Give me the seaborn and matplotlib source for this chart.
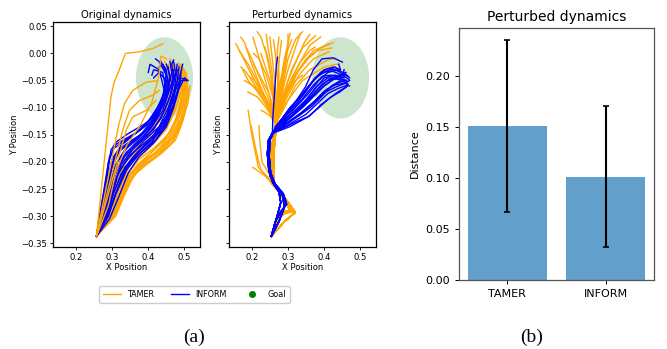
import matplotlib
matplotlib.use("Agg")
import matplotlib.pyplot as plt
import pandas as pd
import seaborn as sns
from matplotlib.patches import Ellipse
from matplotlib.lines import Line2D

# ---- data ----
METHODS = ["TAMER", "INFORM"]
DIST_MEAN = [0.151, 0.101]
DIST_STD = [0.084, 0.069]

GOAL_CENTER = (0.445, -0.045)
GOAL_W, GOAL_H = 0.158, 0.150

# original dynamics, TAMER (orange)
ORIG_TAMER = [
    [(0.257, -0.337), (0.29, -0.30), (0.31, -0.26), (0.33, -0.22), (0.36, -0.19), (0.40, -0.165), (0.44, -0.135), (0.465, -0.10), (0.48, -0.06), (0.475, -0.03), (0.46, -0.015)],
    [(0.257, -0.337), (0.30, -0.305), (0.325, -0.265), (0.345, -0.225), (0.38, -0.20), (0.42, -0.175), (0.46, -0.145), (0.485, -0.11), (0.495, -0.07), (0.49, -0.035), (0.48, -0.02)],
    [(0.257, -0.337), (0.31, -0.295), (0.34, -0.245), (0.365, -0.215), (0.40, -0.195), (0.44, -0.175), (0.475, -0.15), (0.495, -0.12), (0.505, -0.08), (0.50, -0.045)],
    [(0.257, -0.337), (0.316, -0.286), (0.348, -0.237), (0.385, -0.206), (0.44, -0.182), (0.475, -0.16), (0.49, -0.135), (0.50, -0.11), (0.51, -0.075), (0.505, -0.04), (0.49, -0.02)],
    [(0.257, -0.337), (0.285, -0.295), (0.305, -0.25), (0.325, -0.21), (0.35, -0.18), (0.39, -0.155), (0.43, -0.125), (0.455, -0.085), (0.47, -0.05), (0.465, -0.02)],
    [(0.257, -0.337), (0.295, -0.30), (0.315, -0.26), (0.34, -0.225), (0.37, -0.195), (0.41, -0.17), (0.45, -0.14), (0.475, -0.105), (0.49, -0.065), (0.485, -0.03)],
    [(0.257, -0.337), (0.305, -0.30), (0.33, -0.255), (0.355, -0.22), (0.39, -0.20), (0.43, -0.18), (0.465, -0.155), (0.49, -0.12), (0.50, -0.085), (0.50, -0.05), (0.495, -0.03)],
    [(0.257, -0.337), (0.28, -0.30), (0.30, -0.255), (0.32, -0.215), (0.345, -0.185), (0.38, -0.16), (0.42, -0.13), (0.445, -0.095), (0.46, -0.06), (0.455, -0.03), (0.445, -0.015)],
    [(0.257, -0.337), (0.30, -0.295), (0.32, -0.25), (0.345, -0.21), (0.375, -0.185), (0.415, -0.16), (0.455, -0.13), (0.48, -0.095), (0.495, -0.055), (0.49, -0.025)],
    [(0.257, -0.337), (0.31, -0.30), (0.335, -0.26), (0.36, -0.225), (0.395, -0.205), (0.435, -0.185), (0.47, -0.16), (0.495, -0.125), (0.51, -0.09), (0.515, -0.06)],
    [(0.257, -0.337), (0.29, -0.29), (0.32, -0.245), (0.35, -0.205), (0.385, -0.18), (0.425, -0.155), (0.46, -0.12), (0.48, -0.08), (0.485, -0.045), (0.475, -0.02)],
    [(0.257, -0.337), (0.305, -0.29), (0.335, -0.24), (0.37, -0.205), (0.415, -0.185), (0.455, -0.16), (0.48, -0.13), (0.495, -0.095), (0.505, -0.06), (0.50, -0.03)],
    [(0.257, -0.337), (0.295, -0.305), (0.32, -0.27), (0.34, -0.235), (0.365, -0.21), (0.405, -0.185), (0.445, -0.16), (0.475, -0.125), (0.49, -0.085), (0.49, -0.05)],
    [(0.257, -0.337), (0.285, -0.30), (0.31, -0.24), (0.34, -0.195), (0.375, -0.17), (0.41, -0.145), (0.445, -0.11), (0.465, -0.07), (0.47, -0.035), (0.46, -0.01)],
    [(0.257, -0.337), (0.30, -0.30), (0.322, -0.258), (0.345, -0.22), (0.375, -0.195), (0.415, -0.175), (0.455, -0.15), (0.48, -0.115), (0.495, -0.075), (0.495, -0.04)],
    [(0.257, -0.337), (0.292, -0.298), (0.315, -0.255), (0.338, -0.215), (0.365, -0.19), (0.405, -0.168), (0.445, -0.14), (0.47, -0.105), (0.485, -0.065), (0.48, -0.03)],
    [(0.257, -0.337), (0.308, -0.292), (0.338, -0.25), (0.37, -0.215), (0.41, -0.195), (0.45, -0.172), (0.48, -0.14), (0.50, -0.105), (0.508, -0.07), (0.505, -0.035)],
    [(0.257, -0.337), (0.288, -0.30), (0.308, -0.26), (0.33, -0.22), (0.355, -0.19), (0.39, -0.165), (0.43, -0.14), (0.46, -0.105), (0.475, -0.065), (0.47, -0.025)],
    [(0.257, -0.337), (0.312, -0.29), (0.342, -0.245), (0.375, -0.212), (0.42, -0.19), (0.46, -0.168), (0.485, -0.14), (0.50, -0.105), (0.51, -0.065), (0.50, -0.035)],
    [(0.257, -0.337), (0.298, -0.302), (0.322, -0.262), (0.345, -0.228), (0.38, -0.203), (0.425, -0.18), (0.46, -0.15), (0.485, -0.115), (0.498, -0.075), (0.495, -0.04), (0.485, -0.018)],
    [(0.257, -0.337), (0.283, -0.305), (0.302, -0.262), (0.32, -0.225), (0.342, -0.195), (0.375, -0.168), (0.415, -0.14), (0.445, -0.105), (0.465, -0.07), (0.465, -0.035), (0.455, -0.02)],
    [(0.257, -0.337), (0.29, -0.28), (0.31, -0.22), (0.34, -0.17), (0.38, -0.13), (0.41, -0.09), (0.43, -0.04), (0.435, -0.005), (0.45, -0.01)],
    [(0.257, -0.337), (0.297, -0.08), (0.305, -0.055), (0.32, -0.03), (0.337, 0.0), (0.375, 0.003), (0.412, 0.009), (0.44, 0.018)],
    [(0.257, -0.337), (0.318, -0.133), (0.334, -0.093), (0.357, -0.068), (0.394, -0.053), (0.426, -0.05)],
    [(0.257, -0.337), (0.33, -0.14), (0.348, -0.105), (0.375, -0.087), (0.412, -0.077), (0.43, -0.068)],
    [(0.257, -0.337), (0.34, -0.14), (0.357, -0.117), (0.394, -0.105), (0.421, -0.087)],
]

# original dynamics, INFORM (blue)
ORIG_INFORM = [
    [(0.257, -0.337), (0.27, -0.29), (0.285, -0.235), (0.297, -0.178), (0.312, -0.163), (0.344, -0.148), (0.39, -0.13), (0.427, -0.11), (0.445, -0.07), (0.43, -0.03), (0.405, -0.02), (0.40, -0.035)],
    [(0.257, -0.337), (0.275, -0.29), (0.29, -0.24), (0.305, -0.19), (0.33, -0.165), (0.37, -0.145), (0.41, -0.12), (0.44, -0.08), (0.45, -0.04), (0.43, -0.015), (0.42, -0.01)],
    [(0.257, -0.337), (0.28, -0.29), (0.295, -0.245), (0.315, -0.20), (0.345, -0.17), (0.385, -0.145), (0.42, -0.115), (0.45, -0.075), (0.46, -0.04), (0.45, -0.02)],
    [(0.257, -0.337), (0.283, -0.295), (0.30, -0.25), (0.325, -0.205), (0.36, -0.175), (0.40, -0.15), (0.435, -0.12), (0.46, -0.08), (0.47, -0.045), (0.465, -0.02), (0.47, -0.012)],
    [(0.257, -0.337), (0.287, -0.298), (0.305, -0.255), (0.335, -0.21), (0.37, -0.182), (0.41, -0.158), (0.445, -0.125), (0.47, -0.085), (0.48, -0.05), (0.485, -0.025)],
    [(0.257, -0.337), (0.29, -0.30), (0.31, -0.26), (0.34, -0.215), (0.375, -0.185), (0.42, -0.16), (0.455, -0.125), (0.475, -0.085), (0.49, -0.05), (0.505, -0.05)],
    [(0.257, -0.337), (0.285, -0.30), (0.30, -0.26), (0.32, -0.215), (0.35, -0.19), (0.39, -0.16), (0.43, -0.135), (0.455, -0.10), (0.475, -0.06), (0.49, -0.035), (0.495, -0.02)],
    [(0.257, -0.337), (0.275, -0.30), (0.29, -0.255), (0.30, -0.21), (0.32, -0.18), (0.36, -0.16), (0.40, -0.14), (0.43, -0.11), (0.45, -0.07), (0.44, -0.035), (0.415, -0.03), (0.41, -0.04)],
    [(0.257, -0.337), (0.28, -0.30), (0.295, -0.26), (0.31, -0.22), (0.335, -0.19), (0.375, -0.165), (0.415, -0.13), (0.445, -0.09), (0.465, -0.055), (0.47, -0.03)],
    [(0.257, -0.337), (0.293, -0.305), (0.318, -0.265), (0.345, -0.22), (0.375, -0.19), (0.415, -0.165), (0.45, -0.135), (0.47, -0.10), (0.485, -0.065), (0.50, -0.045), (0.51, -0.05)],
    [(0.257, -0.337), (0.27, -0.30), (0.283, -0.25), (0.30, -0.195), (0.325, -0.17), (0.36, -0.15), (0.40, -0.125), (0.435, -0.09), (0.455, -0.05), (0.44, -0.02), (0.43, -0.025)],
    [(0.257, -0.337), (0.28, -0.295), (0.30, -0.24), (0.325, -0.195), (0.365, -0.165), (0.405, -0.14), (0.44, -0.105), (0.46, -0.065), (0.475, -0.035), (0.47, -0.015)],
    [(0.257, -0.337), (0.265, -0.30), (0.278, -0.25), (0.29, -0.20), (0.305, -0.175), (0.34, -0.158), (0.38, -0.14), (0.42, -0.11), (0.445, -0.07), (0.45, -0.035), (0.435, -0.015)],
    [(0.257, -0.337), (0.29, -0.295), (0.315, -0.25), (0.34, -0.21), (0.375, -0.18), (0.415, -0.15), (0.45, -0.115), (0.47, -0.075), (0.49, -0.045), (0.505, -0.05)],
    [(0.257, -0.337), (0.272, -0.30), (0.287, -0.25), (0.30, -0.205), (0.318, -0.178), (0.35, -0.162), (0.39, -0.145), (0.425, -0.115), (0.45, -0.08), (0.46, -0.05), (0.455, -0.025)],
    [(0.257, -0.337), (0.278, -0.30), (0.295, -0.255), (0.315, -0.21), (0.34, -0.182), (0.375, -0.162), (0.415, -0.14), (0.445, -0.105), (0.465, -0.07), (0.475, -0.04), (0.48, -0.02)],
    [(0.257, -0.337), (0.284, -0.30), (0.302, -0.262), (0.325, -0.222), (0.36, -0.19), (0.40, -0.165), (0.44, -0.14), (0.465, -0.105), (0.48, -0.07), (0.49, -0.04)],
    [(0.257, -0.337), (0.268, -0.295), (0.28, -0.245), (0.293, -0.19), (0.31, -0.168), (0.335, -0.158), (0.37, -0.145), (0.41, -0.125), (0.44, -0.09), (0.455, -0.06), (0.45, -0.03), (0.44, -0.02)],
    [(0.257, -0.337), (0.288, -0.30), (0.31, -0.258), (0.335, -0.215), (0.37, -0.188), (0.41, -0.163), (0.445, -0.13), (0.47, -0.095), (0.485, -0.06), (0.49, -0.035)],
    [(0.257, -0.337), (0.275, -0.295), (0.29, -0.245), (0.31, -0.205), (0.335, -0.178), (0.37, -0.158), (0.405, -0.135), (0.435, -0.10), (0.455, -0.065), (0.465, -0.035), (0.46, -0.015)],
    [(0.257, -0.337), (0.282, -0.305), (0.297, -0.265), (0.315, -0.225), (0.345, -0.19), (0.385, -0.168), (0.425, -0.145), (0.455, -0.115), (0.47, -0.08), (0.475, -0.05), (0.48, -0.03)],
    [(0.257, -0.337), (0.273, -0.305), (0.285, -0.26), (0.297, -0.215), (0.312, -0.185), (0.345, -0.165), (0.385, -0.148), (0.42, -0.12), (0.445, -0.085), (0.45, -0.05), (0.43, -0.035), (0.415, -0.045)],
]

# perturbed dynamics, INFORM: lower stems and upper branches
PERT_INFORM_STEMS = [
    [(0.254, -0.337), (0.275, -0.31), (0.29, -0.283), (0.285, -0.262), (0.265, -0.242), (0.25, -0.225), (0.245, -0.195), (0.247, -0.165), (0.255, -0.148)],
    [(0.254, -0.337), (0.265, -0.31), (0.282, -0.29), (0.296, -0.278), (0.287, -0.259), (0.264, -0.24), (0.252, -0.22), (0.248, -0.19), (0.25, -0.16), (0.26, -0.146)],
    [(0.254, -0.337), (0.27, -0.30), (0.28, -0.275), (0.275, -0.255), (0.258, -0.238), (0.247, -0.215), (0.243, -0.185), (0.246, -0.16), (0.257, -0.147)],
]
PERT_INFORM_TIPS = [
    [(0.27, -0.135), (0.30, -0.105), (0.335, -0.08), (0.365, -0.055), (0.39, -0.035), (0.41, -0.028), (0.43, -0.03), (0.445, -0.035)],
    [(0.28, -0.135), (0.31, -0.115), (0.345, -0.09), (0.375, -0.065), (0.40, -0.045), (0.43, -0.04), (0.455, -0.045)],
    [(0.29, -0.133), (0.33, -0.115), (0.365, -0.098), (0.395, -0.078), (0.42, -0.06), (0.445, -0.05), (0.465, -0.055)],
    [(0.30, -0.132), (0.35, -0.112), (0.38, -0.093), (0.41, -0.074), (0.437, -0.065), (0.465, -0.058)],
    [(0.285, -0.128), (0.32, -0.10), (0.355, -0.075), (0.385, -0.05), (0.41, -0.035), (0.44, -0.03), (0.46, -0.04)],
    [(0.295, -0.125), (0.34, -0.10), (0.37, -0.08), (0.40, -0.06), (0.43, -0.045), (0.455, -0.035), (0.47, -0.045)],
    [(0.29, -0.12), (0.32, -0.09), (0.348, -0.062), (0.37, -0.03), (0.394, -0.01), (0.425, -0.008), (0.45, -0.016)],
    [(0.275, -0.13), (0.315, -0.108), (0.35, -0.085), (0.38, -0.06), (0.41, -0.045), (0.44, -0.048), (0.46, -0.05)],
    [(0.285, -0.13), (0.325, -0.107), (0.36, -0.085), (0.39, -0.065), (0.42, -0.05), (0.45, -0.04), (0.468, -0.048)],
    [(0.30, -0.128), (0.345, -0.105), (0.375, -0.087), (0.405, -0.067), (0.435, -0.055), (0.46, -0.05)],
    [(0.265, -0.135), (0.29, -0.115), (0.32, -0.095), (0.35, -0.07), (0.375, -0.045), (0.40, -0.035), (0.43, -0.025), (0.44, -0.03)],
    [(0.31, -0.13), (0.36, -0.115), (0.39, -0.095), (0.42, -0.08), (0.445, -0.07), (0.465, -0.06)],
    [(0.275, -0.128), (0.305, -0.10), (0.34, -0.075), (0.37, -0.05), (0.395, -0.035), (0.42, -0.032), (0.45, -0.04), (0.455, -0.03)],
    [(0.282, -0.132), (0.318, -0.112), (0.352, -0.088), (0.382, -0.066), (0.41, -0.05), (0.44, -0.045), (0.462, -0.05)],
    [(0.292, -0.13), (0.335, -0.11), (0.37, -0.09), (0.40, -0.07), (0.43, -0.058), (0.455, -0.055), (0.47, -0.05)],
    [(0.305, -0.135), (0.355, -0.117), (0.385, -0.10), (0.415, -0.082), (0.44, -0.07), (0.46, -0.062)],
    [(0.278, -0.125), (0.31, -0.098), (0.345, -0.07), (0.375, -0.045), (0.40, -0.03), (0.425, -0.025), (0.445, -0.03), (0.44, -0.02)],
    [(0.288, -0.127), (0.33, -0.103), (0.362, -0.08), (0.392, -0.058), (0.42, -0.045), (0.45, -0.038), (0.465, -0.042)],
    [(0.298, -0.128), (0.342, -0.108), (0.372, -0.09), (0.402, -0.072), (0.432, -0.062), (0.458, -0.055), (0.47, -0.06)],
    [(0.272, -0.133), (0.302, -0.11), (0.338, -0.085), (0.368, -0.06), (0.395, -0.042), (0.42, -0.04), (0.45, -0.045), (0.46, -0.035)],
    [(0.258, -0.12), (0.264, -0.06), (0.268, -0.02), (0.271, -0.007)],
]

# perturbed dynamics, TAMER: lower stems, fan tips, short side branches
PERT_TAMER_STEMS = [
    [(0.254, -0.337), (0.29, -0.31), (0.32, -0.293), (0.29, -0.265), (0.258, -0.237), (0.255, -0.20), (0.262, -0.16), (0.266, -0.13)],
    [(0.254, -0.337), (0.28, -0.30), (0.305, -0.288), (0.285, -0.262), (0.255, -0.24), (0.25, -0.20), (0.258, -0.16), (0.267, -0.13)],
    [(0.254, -0.337), (0.27, -0.30), (0.29, -0.29), (0.31, -0.292), (0.28, -0.26), (0.26, -0.235), (0.26, -0.19), (0.268, -0.13)],
]
PERT_TAMER_TIPS = [
    [(0.24, -0.09), (0.20, -0.04), (0.17, 0.0), (0.156, 0.018)],
    [(0.245, -0.10), (0.21, -0.06), (0.185, -0.035), (0.17, -0.025)],
    [(0.24, -0.10), (0.215, -0.08), (0.189, -0.071)],
    [(0.25, -0.08), (0.225, -0.02), (0.21, 0.015), (0.203, 0.03)],
    [(0.25, -0.115), (0.235, -0.108), (0.226, -0.105)],
    [(0.26, -0.07), (0.245, -0.01), (0.236, 0.012)],
    [(0.262, -0.11), (0.254, -0.099)],
    [(0.27, -0.07), (0.276, -0.01), (0.282, 0.024)],
    [(0.275, -0.07), (0.29, -0.01), (0.306, 0.037)],
    [(0.28, -0.08), (0.30, -0.03), (0.32, 0.01), (0.334, 0.037)],
    [(0.285, -0.08), (0.31, -0.03), (0.34, 0.01), (0.376, 0.033)],
    [(0.29, -0.085), (0.33, -0.03), (0.37, 0.005), (0.413, 0.018)],
    [(0.29, -0.09), (0.33, -0.04), (0.37, -0.01), (0.413, 0.003)],
    [(0.29, -0.095), (0.34, -0.05), (0.40, -0.025), (0.441, -0.019)],
    [(0.285, -0.09), (0.31, -0.05), (0.329, -0.031)],
    [(0.245, -0.09), (0.22, -0.06), (0.198, -0.044)],
    [(0.255, -0.05), (0.24, 0.0), (0.225, 0.03), (0.215, 0.04)],
    [(0.272, -0.05), (0.265, 0.0), (0.26, 0.025)],
    [(0.28, -0.06), (0.295, 0.0), (0.31, 0.025)],
    [(0.295, -0.07), (0.33, -0.02), (0.36, 0.015), (0.39, 0.03)],
    [(0.23, -0.07), (0.19, -0.02), (0.165, 0.005)],
    [(0.275, -0.10), (0.285, -0.07), (0.29, -0.05)],
    [(0.235, -0.08), (0.20, -0.02), (0.18, 0.02), (0.17, 0.03)],
    [(0.265, -0.06), (0.255, 0.0), (0.25, 0.03)],
    [(0.30, -0.06), (0.35, -0.01), (0.38, 0.005), (0.42, 0.01)],
    [(0.285, -0.06), (0.30, -0.01), (0.32, 0.025), (0.34, 0.04)],
    [(0.25, -0.09), (0.225, -0.05), (0.20, -0.01), (0.185, 0.01)],
    [(0.258, -0.08), (0.24, -0.04), (0.22, -0.01), (0.205, 0.0)],
    [(0.262, -0.08), (0.255, -0.03), (0.245, 0.01), (0.24, 0.035)],
    [(0.27, -0.09), (0.275, -0.04), (0.27, 0.0), (0.275, 0.03)],
    [(0.278, -0.08), (0.29, -0.03), (0.30, 0.01), (0.30, 0.035)],
    [(0.282, -0.09), (0.30, -0.05), (0.325, -0.01), (0.345, 0.02), (0.36, 0.035)],
    [(0.29, -0.08), (0.32, -0.04), (0.355, -0.01), (0.39, 0.01), (0.425, 0.02)],
    [(0.29, -0.10), (0.32, -0.06), (0.36, -0.03), (0.41, -0.012), (0.43, -0.01)],
    [(0.28, -0.10), (0.30, -0.07), (0.32, -0.05), (0.34, -0.04)],
    [(0.255, -0.10), (0.23, -0.075), (0.205, -0.06), (0.18, -0.05)],
    [(0.26, -0.10), (0.245, -0.07), (0.225, -0.045), (0.205, -0.02)],
    [(0.262, -0.09), (0.25, -0.05), (0.235, -0.02), (0.225, 0.0)],
    [(0.265, -0.10), (0.262, -0.075), (0.255, -0.06)],
    [(0.275, -0.10), (0.28, -0.07), (0.29, -0.03), (0.295, -0.01)],
    [(0.27, -0.11), (0.272, -0.08), (0.278, -0.05), (0.285, -0.04)],
    [(0.24, -0.095), (0.215, -0.07), (0.19, -0.05), (0.175, -0.03)],
    [(0.285, -0.085), (0.31, -0.045), (0.335, -0.015), (0.36, 0.005), (0.375, 0.012)],
]
PERT_TAMER_SIDE = [
    [(0.254, -0.337), (0.29, -0.31), (0.32, -0.293), (0.29, -0.265), (0.258, -0.237), (0.235, -0.225), (0.203, -0.21)],
    [(0.254, -0.337), (0.28, -0.30), (0.305, -0.288), (0.285, -0.262), (0.255, -0.24), (0.225, -0.215), (0.212, -0.18), (0.198, -0.133)],
    [(0.254, -0.337), (0.27, -0.30), (0.31, -0.292), (0.28, -0.26), (0.26, -0.235), (0.228, -0.20), (0.222, -0.16), (0.22, -0.133)],
    [(0.254, -0.337), (0.29, -0.31), (0.32, -0.293), (0.29, -0.265), (0.258, -0.237), (0.218, -0.21), (0.20, -0.15), (0.19, -0.105)],
]

TAMER_COLOR = "orange"
INFORM_COLOR = "blue"


def join_paths(stems, tips):
    """Attach each upper branch to one of the lower stems."""
    return [stems[i % len(stems)] + tip for i, tip in enumerate(tips)]


def to_frame(paths):
    rows = []
    for k, path in enumerate(paths):
        for step, (x, y) in enumerate(path):
            rows.append({"traj": k, "step": step, "x": x, "y": y})
    return pd.DataFrame(rows)


def plot_group(ax, paths, color, lw):
    sns.lineplot(data=to_frame(paths), x="x", y="y", units="traj", estimator=None,
                 sort=False, color=color, lw=lw, ax=ax, legend=False)


def style_traj_axes(ax, title, show_ylabels):
    ax.add_patch(Ellipse(GOAL_CENTER, GOAL_W, GOAL_H, color="green", alpha=0.2, lw=0, zorder=0))
    ax.set_xlim(0.137, 0.543)
    ax.set_ylim(-0.357, 0.058)
    ax.set_xticks([0.2, 0.3, 0.4, 0.5])
    ax.set_yticks([-0.35, -0.30, -0.25, -0.20, -0.15, -0.10, -0.05, 0.0, 0.05])
    ax.tick_params(labelsize=6.1, length=2.5, width=0.6, pad=1.5)
    if not show_ylabels:
        ax.tick_params(labelleft=False)
    ax.set_title(title, fontsize=7.2, pad=3)
    ax.set_xlabel("X Position", fontsize=6, labelpad=1)
    ax.set_ylabel("Y Position", fontsize=6, labelpad=2)
    for sp in ax.spines.values():
        sp.set_linewidth(0.9)


fig = plt.figure(figsize=(6.67, 3.49), dpi=100)
ax1 = fig.add_axes([0.0795, 0.292, 0.2204, 0.645])
ax2 = fig.add_axes([0.3433, 0.292, 0.2204, 0.645])
ax3 = fig.add_axes([0.688, 0.198, 0.2924, 0.722])

# original dynamics: orange band underneath, blue on top, a few orange strays over it
plot_group(ax1, ORIG_TAMER[:21], TAMER_COLOR, 1.0)
plot_group(ax1, ORIG_INFORM, INFORM_COLOR, 1.0)
plot_group(ax1, ORIG_TAMER[21:], TAMER_COLOR, 1.0)
style_traj_axes(ax1, "Original dynamics", True)

# perturbed dynamics
plot_group(ax2, join_paths(PERT_TAMER_STEMS, PERT_TAMER_TIPS) + PERT_TAMER_SIDE, TAMER_COLOR, 1.0)
plot_group(ax2, join_paths(PERT_INFORM_STEMS, PERT_INFORM_TIPS), INFORM_COLOR, 1.0)
style_traj_axes(ax2, "Perturbed dynamics", False)

handles = [
    Line2D([], [], color=TAMER_COLOR, lw=1),
    Line2D([], [], color=INFORM_COLOR, lw=1),
    Line2D([], [], color="green", marker="o", ls="none", markersize=4),
]
fig.legend(handles, ["TAMER", "INFORM", "Goal"], loc="center",
           bbox_to_anchor=(194.5 / 667, 1 - 294.5 / 349), ncol=3, fontsize=5.8,
           handlelength=2.2, columnspacing=2.1, borderpad=0.45, framealpha=1)

# bar chart
bars = pd.DataFrame({"method": METHODS, "dist": DIST_MEAN})
sns.barplot(data=bars, x="method", y="dist", color="tab:blue", alpha=0.7,
            saturation=1, errorbar=None, width=0.8, ax=ax3)
ax3.errorbar(range(len(METHODS)), DIST_MEAN, yerr=DIST_STD, fmt="none",
             ecolor="black", elinewidth=1.5, capsize=2.5, capthick=1.2)
ax3.set_ylim(0, 0.247)
ax3.set_yticks([0.0, 0.05, 0.10, 0.15, 0.20])
ax3.set_xlabel("")
ax3.set_ylabel("Distance", fontsize=8)
ax3.set_title("Perturbed dynamics", fontsize=10, pad=5)
ax3.tick_params(labelsize=8, length=3, width=0.7)
for sp in ax3.spines.values():
    sp.set_linewidth(0.9)
    sp.set_color("#555555")

fig.text(194 / 667, 1 - 337 / 349, "(a)", family="Liberation Serif", fontsize=14,
         ha="center", va="center")
fig.text(532 / 667, 1 - 337 / 349, "(b)", family="Liberation Serif", fontsize=14,
         ha="center", va="center")

fig.savefig("out.png", dpi=100)
